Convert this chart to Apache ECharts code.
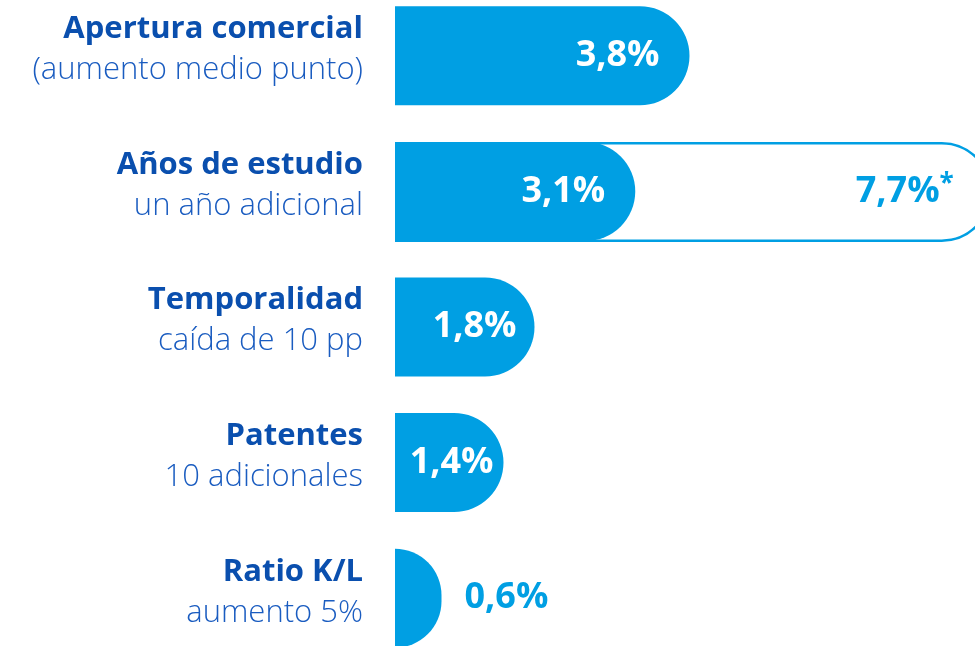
<!DOCTYPE html>
<html>
<head>
<meta charset="utf-8">
<script src="https://cdn.jsdelivr.net/npm/echarts@6/dist/echarts.min.js"></script>
<style>
  html, body { margin: 0; padding: 0; background: #fff; }
  #chartmain { width: 975px; height: 646px; }
</style>
</head>
<body>
<div id="chartmain"></div>
<script>
// datos
var titulos = ['Apertura comercial', 'Años de estudio', 'Temporalidad', 'Patentes', 'Ratio K/L'];
var subtitulos = ['(aumento medio punto)', 'un año adicional', 'caída de 10 pp', '10 adicionales', 'aumento 5%'];
var valores = [3.8, 3.1, 1.8, 1.4, 0.6];
var valoresContorno = ['-', 7.7, '-', '-', '-'];

var azul = '#009fe3';
var azulTexto = '#0a4fae';

function fmt(v) {
    return v.toFixed(1).replace('.', ',') + '%';
}

var categorias = titulos.map(function (t, i) {
    return t + '|' + subtitulos[i];
});

// etiquetas de las barras llenas
var datosLlenos = valores.map(function (v) {
    var item = { value: v };
    if (v < 1) {
        item.label = { position: 'right', distance: 23, color: azul };
    } else if (v < 1.6) {
        item.label = { distance: 10 };
    } else if (v < 3) {
        item.label = { distance: 18 };
    }
    return item;
});

var myChart = echarts.init(document.getElementById('chartmain'));
var option = {
    animation: false,
    grid: {
        left: 395,
        top: -12,
        width: 7.7 * 77.5,
        height: 678,
        containLabel: false,
        outerBoundsMode: 'none'
    },
    xAxis: {
        type: 'value',
        min: 0,
        max: 7.7,
        show: false
    },
    yAxis: {
        type: 'category',
        inverse: true,
        data: categorias,
        axisLine: { show: false },
        axisTick: { show: false },
        splitLine: { show: false },
        axisLabel: {
            margin: 32,
            align: 'right',
            padding: [0, 0, 12, 0],
            formatter: function (value) {
                var p = value.split('|');
                return '{t|' + p[0] + '}\n{s|' + p[1] + '}';
            },
            rich: {
                t: {
                    fontFamily: 'Open Sans',
                    fontWeight: 'bold',
                    fontSize: 31,
                    color: azulTexto,
                    lineHeight: 41,
                    align: 'right'
                },
                s: {
                    fontFamily: 'Open Sans',
                    fontWeight: 300,
                    fontSize: 31,
                    color: '#1a5cc0',
                    lineHeight: 41,
                    align: 'right'
                }
            }
        }
    },
    series: [{
        type: 'bar',
        data: valoresContorno,
        barWidth: 100,
        clip: false,
        z: 1,
        itemStyle: {
            color: '#fff',
            borderColor: azul,
            borderWidth: 2.5,
            borderRadius: [0, 50, 50, 0]
        },
        label: {
            show: true,
            position: 'insideRight',
            distance: 38,
            formatter: function (p) {
                return '{v|' + fmt(p.value) + '}{a|*}';
            },
            rich: {
                v: {
                    fontFamily: 'Open Sans',
                    fontWeight: 'bold',
                    fontSize: 36,
                    color: azul
                },
                a: {
                    fontFamily: 'Open Sans',
                    fontWeight: 'bold',
                    fontSize: 26,
                    color: azul,
                    padding: [0, 0, 14, 0]
                }
            }
        }
    }, {
        type: 'bar',
        data: datosLlenos,
        barWidth: 99,
        barGap: '-100%',
        z: 2,
        itemStyle: {
            color: azul,
            borderRadius: [0, 50, 50, 0]
        },
        label: {
            show: true,
            position: 'insideRight',
            distance: 30,
            fontFamily: 'Open Sans',
            fontWeight: 'bold',
            fontSize: 36,
            color: '#fff',
            formatter: function (p) {
                return fmt(p.value);
            }
        }
    }]
};
myChart.setOption(option);
</script>
</body>
</html>
